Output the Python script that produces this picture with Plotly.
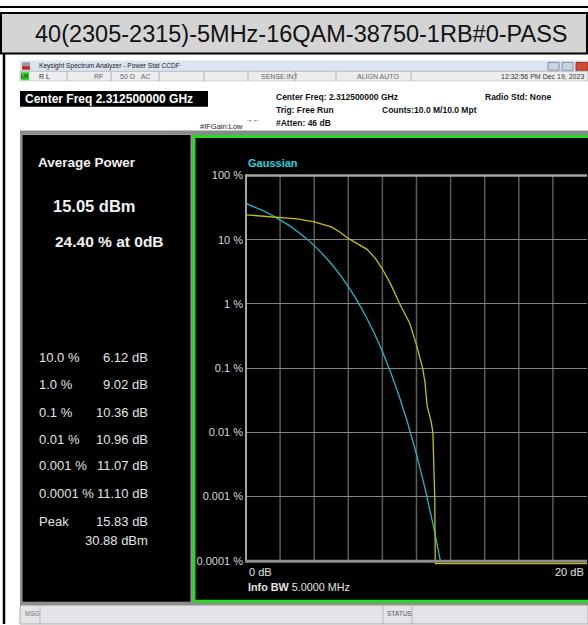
import plotly.graph_objects as go

W, H = 588, 625

# Gaussian reference CCDF (probability in %, vs dB above average power)
gauss_db = [0, 0.5, 1, 1.5, 2, 2.5, 3, 3.5, 4, 4.5, 5, 5.5, 6, 6.5, 7, 7.5,
            8, 8.5, 9, 9.5, 10, 10.5, 11, 11.4]
gauss_pct = [36.8, 32.6, 28.4, 24.3, 20.5, 16.9, 13.6, 10.7, 8.11, 5.97, 4.23,
             2.88, 1.87, 1.15, 0.666, 0.362, 0.182, 0.0843, 0.0355, 0.0135,
             0.00454, 0.00134, 0.00034, 0.0001]

# Measured CCDF of the 16QAM signal
meas_db = [0, 1, 2, 3, 4, 4.5, 5, 5.5, 6, 6.5, 7.1, 7.6, 8.0, 8.5, 9.02, 9.6,
           10.0, 10.36, 10.5, 10.62, 10.86, 10.96, 11.01, 11.07, 11.10, 11.12, 20]
meas_pct = [24.4, 23.4, 22.4, 21.2, 19.0, 17.6, 15.9, 13.2, 10.5, 8.8, 7.1, 5.1,
            3.5, 2.0, 1.0, 0.5, 0.23, 0.1, 0.06, 0.026, 0.0147, 0.01, 0.0025,
            0.001, 0.0001, 0.00009, 0.00009]

# Axes
prob_ticks = [100, 10, 1, 0.1, 0.01, 0.001, 0.0001]
prob_labels = ["100 %", "10 %", "1 %", "0.1 %", "0.01 %", "0.001 %", "0.0001 %"]
db_ticks = [0, 2, 4, 6, 8, 10, 12, 14, 16, 18, 20]

# Statistics table
stat_labels = ["10.0 %", "1.0 %", "0.1 %", "0.01 %", "0.001 %", "0.0001 %", "Peak"]
stat_values = ["6.12 dB", "9.02 dB", "10.36 dB", "10.96 dB", "11.07 dB", "11.10 dB", "15.83 dB"]
peak_dbm = "30.88 dBm"
avg_power = "15.05 dBm"
pct_at_0db = "24.40 % at 0dB"

title = "40(2305-2315)-5MHz-16QAM-38750-1RB#0-PASS"

FONT = "Liberation Sans, Arial, sans-serif"


def px(x):
    return x / W


def py(y):
    return 1 - y / H


shapes = []
annotations = []


def rect(x0, y0, x1, y1, fill, line=None, lw=0, layer="below"):
    shapes.append(dict(type="rect", xref="paper", yref="paper",
                       x0=px(x0), x1=px(x1), y0=py(y1), y1=py(y0),
                       fillcolor=fill, layer=layer,
                       line=dict(width=lw, color=line or fill)))


def hline(x0, x1, y, color, lw, layer="below"):
    shapes.append(dict(type="line", xref="paper", yref="paper",
                       x0=px(x0), x1=px(x1), y0=py(y), y1=py(y),
                       layer=layer, line=dict(color=color, width=lw)))


def vline(x, y0, y1, color, lw, layer="below"):
    shapes.append(dict(type="line", xref="paper", yref="paper",
                       x0=px(x), x1=px(x), y0=py(y0), y1=py(y1),
                       layer=layer, line=dict(color=color, width=lw)))


def text(x, y, s, size, color, bold=False, anchor="left"):
    if bold:
        s = "<b>" + s + "</b>"
    annotations.append(dict(xref="paper", yref="paper", x=px(x), y=py(y),
                            text=s, showarrow=False, xanchor=anchor,
                            yanchor="middle", align=anchor,
                            font=dict(family=FONT, size=size, color=color)))


# ---- page / title cell ----
hline(0, 588, 1, "#000000", 2)
rect(1, 7, 587, 48, "#d4d4d4", "#000000", 2)
vline(4, 48, 625, "#000000", 2.5)
text(301, 28, title, 23.5, "#111111", anchor="center")

# ---- analyzer window chrome ----
rect(20, 55, 588, 66, "#dbe5f2")
rect(22, 57, 30, 65, "#9a9a9a")
rect(22, 61, 30, 64, "#d02020")
text(37, 61, "Keysight Spectrum Analyzer - Power Stat CCDF", 6.6, "#1a1a1a")
rect(548, 57, 559, 65, "#c8d4e4", "#8090a8", 1)
rect(562, 57, 573, 65, "#c8d4e4", "#8090a8", 1)
rect(576, 57, 588, 65, "#d04a34", "#903020", 1)

# status row
rect(20, 66, 588, 76, "#ededed", "#b8b8b8", 1)
rect(21, 67, 29, 75, "#30d030")
text(25, 71, "LXI", 5, "#000000", anchor="center")
for sx in [67, 111, 159, 204, 248, 295, 336, 411]:
    vline(sx, 66, 76, "#b0b0b0", 1)
text(37, 71, "R L", 7, "#333333")
text(92, 71, "RF", 7, "#666666")
text(118, 71, "50 Ω   AC", 7, "#666666")
text(259, 71, "SENSE:INT", 7, "#666666")
text(355, 71, "ALIGN AUTO", 7, "#666666")
text(586, 71, "12:32:56 PM Dec 19, 2023", 7, "#333333", anchor="right")

# info row
rect(20, 76, 588, 127, "#ffffff")
rect(20, 86, 208, 102, "#000000")
text(23, 94, "Center Freq 2.312500000 GHz", 12, "#ffffff", bold=True)
text(274, 92, "Center Freq: 2.312500000 GHz", 8.5, "#111111", bold=True)
text(274, 105, "Trig: Free Run", 8.5, "#111111", bold=True)
text(274, 118, "#Atten: 46 dB", 8.5, "#111111", bold=True)
text(380, 105, "Counts:10.0 M/10.0 Mpt", 8.5, "#111111", bold=True)
text(483, 92, "Radio Std: None", 8.5, "#111111", bold=True)
text(198, 122, "#IFGain:Low", 7.5, "#222222")
text(253, 115, "→←", 7, "#222222", anchor="center")

# panels
rect(20, 126, 588, 606, "#8a8a8a")
rect(22, 130, 191, 603, "#000000", "#a0a0a0", 1)
rect(194, 132, 590, 602, "#000000", "#22dd22", 3)

# bottom status bar
rect(20, 606, 588, 625, "#e6e3e8", "#a8a8a8", 1)
vline(40, 606, 625, "#b8b8b8", 1)
vline(383, 606, 625, "#b8b8b8", 1)
vline(412, 606, 625, "#b8b8b8", 1)
text(23, 614, "MSG", 6.5, "#777777")
text(385, 614, "STATUS", 6.5, "#555555")

# ---- left statistics panel ----
text(36, 158, "Average Power", 13.5, "#f2f2f2", bold=True)
text(51, 202, avg_power, 16.5, "#f2f2f2", bold=True)
text(53, 238, pct_at_0db, 15.5, "#f2f2f2", bold=True)
row_y = [355, 383, 411, 438, 465, 493, 521]
for lab, val, yy in zip(stat_labels, stat_values, row_y):
    text(37, yy, lab, 13, "#e4e4e4")
    text(150, yy, val, 13, "#e4e4e4", anchor="right")
text(150, 541, peak_dbm, 13, "#e4e4e4", anchor="right")

# ---- CCDF plot ----
T, B = 171.5, 561.0            # 100 % and 0.0001 % grid rows
DEC = (B - T) / 6.0            # pixels per decade
BOT = 566.0                    # lower edge of the plotting domain
y_lo = -4 - (BOT - B) / DEC

for d in db_ticks[1:-1]:
    shapes.append(dict(type="line", xref="x", yref="paper", x0=d, x1=d,
                       y0=py(B), y1=py(T), layer="below",
                       line=dict(color="#5c5c5c", width=1.5)))

# frame
hline(245, 587, T, "#a6a6a6", 2.5, layer="above")
vline(246, T - 1, B + 1, "#a6a6a6", 2, layer="above")
hline(245, 587, B + 0.5, "#8e8e8e", 3, layer="above")

text(246, 159, "Gaussian", 11, "#1ed4de", bold=True)
text(247, 572, "0 dB", 11, "#e4e4e4")
text(586, 572, "20 dB", 11, "#e4e4e4", anchor="right")
text(246, 588, "<b>Info BW</b> 5.0000 MHz", 10.8, "#e4e4e4")

fig = go.Figure()
fig.add_trace(go.Scatter(x=gauss_db, y=gauss_pct, mode="lines",
                         line=dict(color="#22b8c4", width=1.3),
                         hoverinfo="skip", showlegend=False))
fig.add_trace(go.Scatter(x=meas_db, y=meas_pct, mode="lines",
                         line=dict(color="#c4c00c", width=1.3),
                         hoverinfo="skip", showlegend=False))

fig.update_layout(
    width=W, height=H, autosize=False,
    margin=dict(l=0, r=0, t=0, b=0, pad=0),
    paper_bgcolor="#ffffff", plot_bgcolor="rgba(0,0,0,0)",
    shapes=shapes, annotations=annotations, showlegend=False,
    xaxis=dict(domain=[px(246), px(587)], range=[0, 20], showgrid=False,
               zeroline=False, showticklabels=False, ticks="", fixedrange=True),
    yaxis=dict(domain=[py(BOT), py(T)], type="log", range=[y_lo, 2],
               tickvals=prob_ticks, ticktext=prob_labels, ticks="",
               ticklabelstandoff=2, showgrid=True, gridcolor="#858585",
               gridwidth=1, zeroline=False, showline=False,
               tickfont=dict(family=FONT, size=11, color="#d8d8d8"),
               fixedrange=True),
)

fig.write_html("out.html")
